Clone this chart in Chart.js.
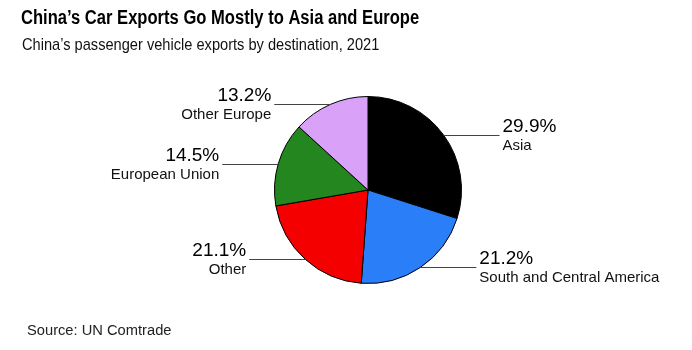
<!DOCTYPE html>
<html>
<head>
<meta charset="utf-8">
<script src="https://cdn.jsdelivr.net/npm/chart.js@4"></script>
<style>
  html, body { margin: 0; padding: 0; background: #fff; }
  #wrap { position: relative; width: 692px; height: 350px; }
</style>
</head>
<body>
<div id="wrap"><canvas id="pieChart" width="692" height="350"></canvas></div>
<script>
// Passenger vehicle exports by destination, 2021 (share of total, %)
const destinations = ['Asia', 'South and Central America', 'Other', 'European Union', 'Other Europe'];
const shares = [29.9, 21.2, 21.1, 14.5, 13.2];
const sliceColors = ['#000000', '#2a7ef8', '#f50000', '#23861e', '#d9a2f8'];

const titleText = 'China\u2019s Car Exports Go Mostly to Asia and Europe';
const subtitleText = 'China\u2019s passenger vehicle exports by destination, 2021';
const sourceText = 'Source: UN Comtrade';

const FONT = '"Liberation Sans", Arial, sans-serif';

function drawText(ctx, text, x, y, font, color, align, sx) {
    ctx.save();
    ctx.font = font;
    ctx.fillStyle = color;
    ctx.textAlign = align;
    ctx.textBaseline = 'alphabetic';
    ctx.translate(x, y);
    ctx.scale(sx, 1);
    ctx.fillText(text, 0, 0);
    ctx.restore();
}

// Header, footer and leader-line labels
const annotations = {
    id: 'annotations',
    afterDraw(chart) {
        const ctx = chart.ctx;
        drawText(ctx, titleText, 21, 24, 'bold 19.5px ' + FONT, '#000', 'left', 0.85);
        drawText(ctx, subtitleText, 22, 50, '17px ' + FONT, '#111', 'left', 0.86);
        drawText(ctx, sourceText, 27, 335, '14.7px ' + FONT, '#222', 'left', 1);

        const meta = chart.getDatasetMeta(0);
        const lineLen = 56;
        meta.data.forEach((arc, i) => {
            const p = arc.getProps(['x', 'y', 'startAngle', 'endAngle', 'outerRadius'], true);
            const mid = (p.startAngle + p.endAngle) / 2;
            const x0 = p.x + Math.cos(mid) * p.outerRadius;
            const y0 = Math.round(p.y + Math.sin(mid) * p.outerRadius) + 0.5;
            const side = Math.cos(mid) >= 0 ? 1 : -1;
            const x1 = x0 + side * lineLen;

            ctx.save();
            ctx.strokeStyle = '#444';
            ctx.lineWidth = 1;
            ctx.beginPath();
            ctx.moveTo(x0, y0);
            ctx.lineTo(x1, y0);
            ctx.stroke();
            ctx.restore();

            const tx = x1 + side * 3;
            const align = side > 0 ? 'left' : 'right';
            drawText(ctx, shares[i].toFixed(1) + '%', tx, y0 - 4, '19px ' + FONT, '#000', align, 1);
            drawText(ctx, destinations[i], tx, y0 + 14, '15px ' + FONT, '#111', align, 1);
        });
    }
};

new Chart(document.getElementById('pieChart'), {
    type: 'pie',
    data: {
        labels: destinations,
        datasets: [{
            data: shares,
            backgroundColor: sliceColors,
            borderColor: '#000',
            borderWidth: 1
        }]
    },
    options: {
        responsive: false,
        animation: false,
        layout: { padding: { left: 274, right: 230, top: 96, bottom: 66 } },
        plugins: {
            legend: { display: false },
            tooltip: { enabled: false }
        }
    },
    plugins: [annotations]
});
</script>
</body>
</html>
